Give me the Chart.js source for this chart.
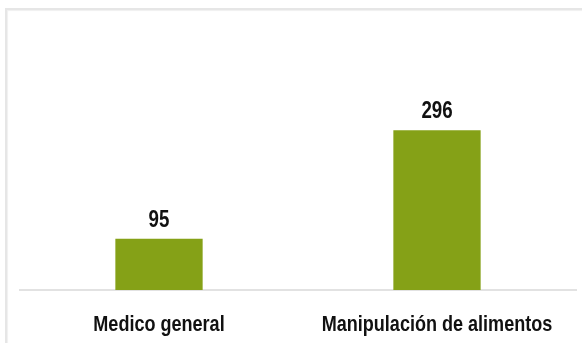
<!DOCTYPE html>
<html>
<head>
<meta charset="utf-8">
<script src="https://cdn.jsdelivr.net/npm/chart.js@4/dist/chart.umd.min.js"></script>
<style>
  html, body { margin: 0; padding: 0; background: #fff; }
  #wrap { position: relative; width: 582px; height: 343px; overflow: hidden; }
  #frame {
    position: absolute; left: 5px; top: 8px; width: 700px; height: 400px;
    border-top: 2px solid #e6e6e6; border-left: 2px solid #e6e6e6;
    box-shadow: inset 1px 1px 1px #f0f0f0;
  }
  #chart { position: absolute; left: 0; top: 0; }
</style>
</head>
<body>
<div id="wrap">
  <div id="frame"></div>
  <canvas id="chart" width="582" height="343"></canvas>
</div>
<script>
const CATEGORIES = ["Medico general", "Manipulación de alimentos"];
const VALUES = [95, 296];
const Y_MAX = 500;

const LABEL_FONT = "'Liberation Sans', Arial, sans-serif";

function drawNarrow(ctx, text, x, y, squeeze) {
  ctx.save();
  ctx.translate(x, y);
  ctx.scale(squeeze, 1);
  ctx.fillText(text, 0, 0);
  ctx.restore();
}

// value above each bar, category name under the axis
const barText = {
  id: "barText",
  afterDatasetsDraw(chart) {
    const ctx = chart.ctx;
    const meta = chart.getDatasetMeta(0);
    const xScale = chart.scales.x;
    ctx.save();
    ctx.fillStyle = "#111";
    ctx.textAlign = "center";
    ctx.textBaseline = "alphabetic";

    ctx.font = "bold 24px " + LABEL_FONT;
    meta.data.forEach((bar, i) => {
      drawNarrow(ctx, String(VALUES[i]), bar.x, bar.y - 12, 0.78);
    });

    ctx.font = "bold 22px " + LABEL_FONT;
    CATEGORIES.forEach((name, i) => {
      drawNarrow(ctx, name, xScale.getPixelForValue(i), xScale.bottom + 41, 0.82);
    });
    ctx.restore();
  }
};

function makeBarChart() {
  const ctx = document.getElementById("chart");
  return new Chart(ctx, {
    type: "bar",
    data: {
      labels: CATEGORIES,
      datasets: [{
        data: VALUES,
        backgroundColor: "#85a117",
        borderWidth: 0,
        categoryPercentage: 1,
        barPercentage: 0.314,
      }],
    },
    options: {
      responsive: false,
      animation: false,
      layout: { padding: { left: 20, right: 6, top: 20, bottom: 53 } },
      plugins: {
        legend: { display: false },
        tooltip: { enabled: false },
      },
      scales: {
        x: {
          grid: { display: false, drawTicks: false },
          border: { display: true, color: "#e2e2e2", width: 2 },
          ticks: { display: false },
        },
        y: {
          display: false,
          min: 0,
          max: Y_MAX,
        },
      },
    },
    plugins: [barText],
  });
}

makeBarChart();
</script>
</body>
</html>
